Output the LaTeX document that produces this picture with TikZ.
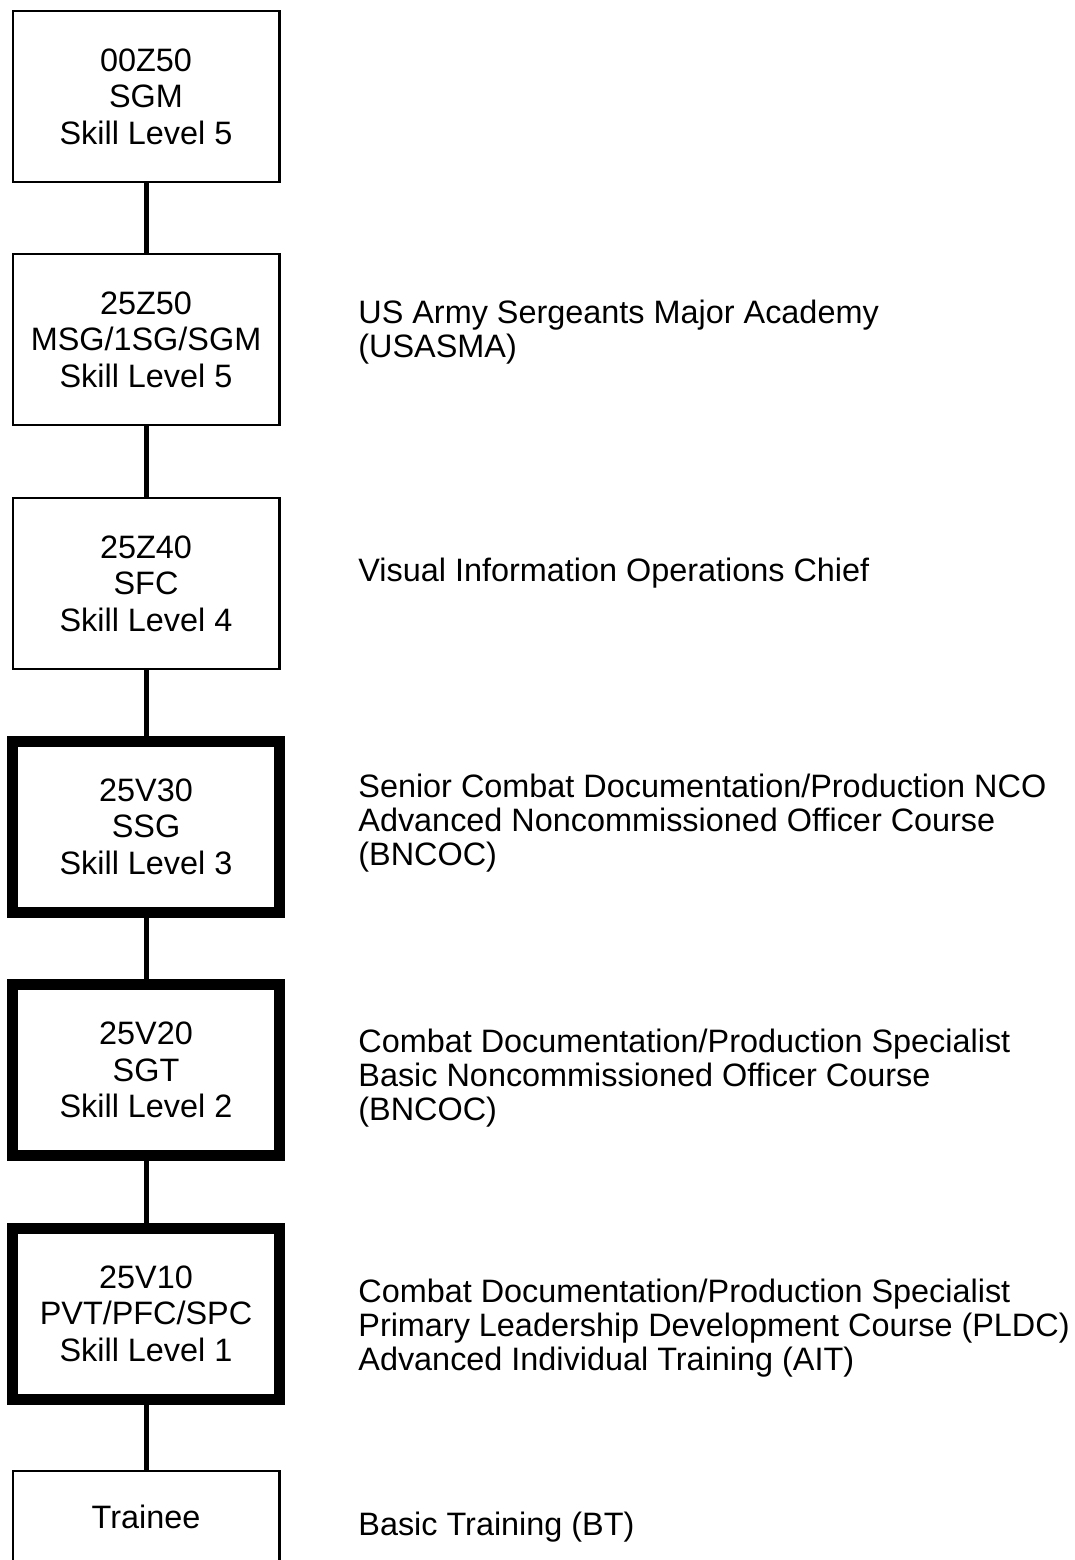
\documentclass[tikz,border=0pt]{standalone}
\usepackage{fontspec}
\setmainfont{Liberation Sans}
\usepackage{tikz}
\usetikzlibrary{positioning}
\tikzset{
  % --- grade boxes ------------------------------------------------------------
  grade/.style={rectangle,draw,line width=1.25pt,minimum width=133.25pt,
                minimum height=85.5pt,inner sep=0pt,align=center,
                font=\fontsize{16.2}{18.25}\selectfont},
  gradeheavy/.style={grade,line width=5.5pt},
  % --- links and course notes -------------------------------------------------
  rung/.style={line width=2.5pt},
  % base = baseline of the last line
  note/.style={anchor=base west,inner sep=0pt,align=left,
               font=\fontsize{16.2}{17}\selectfont},
}
\begin{document}
\begin{tikzpicture}[x=0.5pt, y=-0.5pt]
  \useasboundingbox (0,0) rectangle (1075,1560);

  \node[grade]      (g1) at (146,96.5)   {00Z50\\SGM\\Skill Level 5};
  \node[grade]      (g2) at (146,339.5)  {25Z50\\MSG/1SG/SGM\\Skill Level 5};
  \node[grade]      (g3) at (146,583.5)  {25Z40\\SFC\\Skill Level 4};
  \node[gradeheavy] (g4) at (146,826.5)  {25V30\\SSG\\Skill Level 3};
  \node[gradeheavy] (g5) at (146,1070)   {25V20\\SGT\\Skill Level 2};
  \node[gradeheavy] (g6) at (146,1313.5) {25V10\\PVT/PFC/SPC\\Skill Level 1};
  \node[grade,minimum height=46pt] (g7) at (146,1517) {Trainee};

  \draw[rung] (g1) -- (g2);
  \draw[rung] (g2) -- (g3);
  \draw[rung] (g3) -- (g4);
  \draw[rung] (g4) -- (g5);
  \draw[rung] (g5) -- (g6);
  \draw[rung] (g6) -- (g7);

  \node[note] (n2) at (358,357)  {US Army Sergeants Major Academy\\(USASMA)};
  \node[note] (n3) at (358,581)  {Visual Information Operations Chief};
  \node[note] (n4) at (358,865)  {Senior Combat Documentation/Production NCO\\
    Advanced Noncommissioned Officer Course\\(BNCOC)};
  \node[note] (n5) at (358,1120) {Combat Documentation/Production Specialist\\
    Basic Noncommissioned Officer Course\\(BNCOC)};
  \node[note] (n6) at (358,1370) {Combat Documentation/Production Specialist\\
    Primary Leadership Development Course (PLDC)\\
    Advanced Individual Training (AIT)};
  \node[note] (n7) at (358,1535) {Basic Training (BT)};
\end{tikzpicture}
\end{document}
